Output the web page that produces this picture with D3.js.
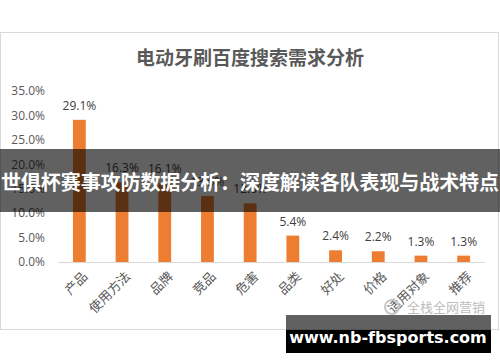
<!DOCTYPE html>
<html>
<head>
<meta charset="utf-8">
<script src="https://cdn.jsdelivr.net/npm/d3@7"></script>
<style>
  html, body { margin: 0; padding: 0; background: #fff; }
  svg { display: block; font-family: "Noto Sans CJK SC", "Noto Sans", sans-serif; }
</style>
</head>
<body>
<svg id="chart"></svg>
<script>
const categories = ["产品", "使用方法", "品牌", "竞品", "危害", "品类", "好处", "价格", "适用对象", "推荐"];
const values = [29.1, 16.3, 16.1, 13.5, 12.0, 5.4, 2.4, 2.2, 1.3, 1.3];
const yTicks = [0, 5, 10, 15, 20, 25, 30, 35];
const title = "电动牙刷百度搜索需求分析";
const bannerText = "世俱杯赛事攻防数据分析：深度解读各队表现与战术特点";
const siteText = "www.nb-fbsports.com";
const markText = "全栈全网营销";

const width = 500;
const height = 362;
const margin = { top: 91, right: 15, bottom: 100, left: 58 };

const svg = d3.select("#chart")
    .attr("width", width)
    .attr("height", height);

// chart frame
svg.append("rect")
    .attr("x", 0.5).attr("y", 32.5)
    .attr("width", 498).attr("height", 297)
    .attr("fill", "#fff")
    .attr("stroke", "#d9d9d9");

svg.append("text")
    .attr("x", 250).attr("y", 65)
    .attr("text-anchor", "middle")
    .style("font-size", "19px")
    .style("font-weight", "bold")
    .style("fill", "#595959")
    .text(title);

const xScale = d3.scaleBand()
    .domain(categories)
    .range([margin.left, width - margin.right])
    .paddingInner(0.7)
    .paddingOuter(0.35);

const yScale = d3.scaleLinear()
    .domain([0, 35])
    .range([height - margin.bottom, margin.top]);

// y axis labels
svg.append("g")
    .attr("class", "y-axis")
    .attr("transform", `translate(${margin.left - 13}, 0)`)
    .call(d3.axisLeft(yScale).tickValues(yTicks).tickSize(0).tickFormat(d => d.toFixed(1) + "%"))
    .call(g => g.select(".domain").remove())
    .selectAll("text")
    .attr("x", 0)
    .style("font-family", "'Open Sans', 'Noto Sans', sans-serif")
    .style("font-size", "12px")
    .style("fill", "#595959");

// bars
svg.selectAll("rect.bar")
    .data(values)
    .enter().append("rect")
    .attr("class", "bar")
    .attr("x", (d, i) => xScale(categories[i]))
    .attr("y", d => yScale(d))
    .attr("width", xScale.bandwidth())
    .attr("height", d => yScale(0) - yScale(d))
    .attr("fill", "#ed7d31");

// value labels
svg.selectAll("text.val")
    .data(values)
    .enter().append("text")
    .attr("class", "val")
    .attr("x", (d, i) => xScale(categories[i]) + xScale.bandwidth() / 2)
    .attr("y", d => yScale(d) - 10)
    .attr("text-anchor", "middle")
    .style("font-family", "'Open Sans', 'Noto Sans', sans-serif")
    .style("font-size", "12px")
    .style("fill", "#404040")
    .text(d => d.toFixed(1) + "%");

// x axis
svg.append("line")
    .attr("x1", margin.left).attr("x2", width - margin.right)
    .attr("y1", yScale(0) + 0.5).attr("y2", yScale(0) + 0.5)
    .attr("stroke", "#d9d9d9");

svg.selectAll("text.cat")
    .data(categories)
    .enter().append("text")
    .attr("class", "cat")
    .attr("transform", d => `translate(${xScale(d) + xScale.bandwidth() / 2 + 6}, ${yScale(0) + 12}) rotate(-45)`)
    .attr("text-anchor", "end")
    .attr("dy", "0.35em")
    .style("font-size", "13px")
    .style("fill", "#595959")
    .text(d => d);

// watermark
svg.append("circle")
    .attr("cx", 392).attr("cy", 307).attr("r", 7)
    .attr("fill", "none")
    .attr("stroke", "#c8c8c8")
    .attr("stroke-width", 2);

svg.append("text")
    .attr("x", 485).attr("y", 312)
    .attr("text-anchor", "end")
    .style("font-size", "13px")
    .style("fill", "#bdbdbd")
    .text(markText);

// overlay banner
svg.append("rect")
    .attr("x", 0).attr("y", 149)
    .attr("width", width).attr("height", 63)
    .attr("fill", "rgba(0,0,0,0.62)");

svg.append("text")
    .attr("x", 250).attr("y", 190)
    .attr("text-anchor", "middle")
    .attr("textLength", 498)
    .style("font-size", "20px")
    .style("font-weight", "bold")
    .style("fill", "#fff")
    .text(bannerText);

// site box
svg.append("rect")
    .attr("x", 286).attr("y", 315)
    .attr("width", 205).attr("height", 15)
    .attr("fill", "rgba(0,0,0,0.62)");

svg.append("rect")
    .attr("x", 286).attr("y", 330)
    .attr("width", 205).attr("height", 23)
    .attr("fill", "#000");

svg.append("text")
    .attr("x", 388).attr("y", 343)
    .attr("text-anchor", "middle")
    .style("font-family", "'DejaVu Sans', sans-serif")
    .style("font-size", "16px")
    .style("font-weight", "bold")
    .style("fill", "#fff")
    .text(siteText);
</script>
</body>
</html>
